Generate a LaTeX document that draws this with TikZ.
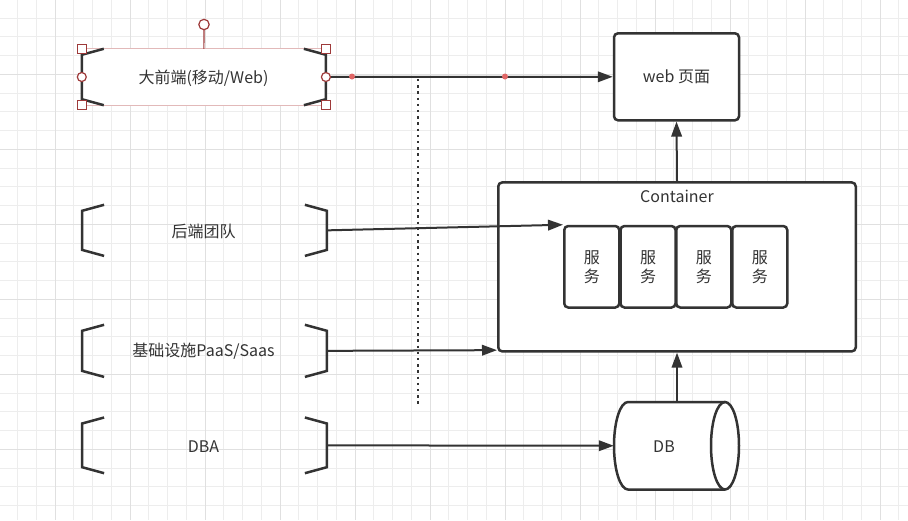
\documentclass[tikz,border=0pt]{standalone}
\usepackage{fontspec}
\setmainfont{Noto Sans CJK SC}
\usetikzlibrary{arrows.meta,calc}
\definecolor{ink}{HTML}{333333}
\definecolor{gridminor}{HTML}{EDEDED}
\definecolor{gridmajor}{HTML}{E0E0E0}
\definecolor{handle}{HTML}{9E3A3A}
\definecolor{selline}{HTML}{E2B9B9}
\definecolor{reddot}{HTML}{E06666}
\begin{document}
\begin{tikzpicture}[x=1pt,y=-1pt,
  every node/.style={font=\fontsize{16}{19}\selectfont, text=ink},
  box/.style={draw=ink, line width=2.5pt, rounded corners=4pt, fill=white, inner sep=0pt},
  holder/.style={inner sep=0pt},
  bracketline/.style={draw=ink, line width=2.5pt},
  conn/.style={draw=ink, line width=2pt, -{Triangle[length=15pt,width=10.5pt]}},
  handlebox/.style={draw=handle, fill=white, line width=1.2pt},
  gridline/.style={line width=1pt}]
\useasboundingbox (0,0) rectangle (908,520);
\fill[white] (0,0) rectangle (908,520);
% grid
\foreach \i in {0,...,47} \draw[gridline, gridminor] ({17.5+\i*18.75},0) -- ({17.5+\i*18.75},520);
\foreach \j in {0,...,26} \draw[gridline, gridminor] (0,{18.05+\j*18.75}) -- (908,{18.05+\j*18.75});
\foreach \i in {0,...,11} \draw[gridline, gridmajor] ({55+\i*75},0) -- ({55+\i*75},520);
\foreach \j in {0,...,5} \draw[gridline, gridmajor] (0,{74.3+\j*75}) -- (908,{74.3+\j*75});

% dotted separator
\coordinate (d1) at (418,79);
\coordinate (d2) at (418,405);
\draw[ink, line width=2.3pt, dash pattern=on 2.3pt off 3.9pt] (d1) -- (d2);

% left bracket holders
\node[holder, fill=white, minimum width=243.7pt, minimum height=56pt] (fe) at (203.85,77) {};
\node[holder, minimum width=244.4pt, minimum height=50.7pt] (be) at (204.5,230.35) {};
\node[holder, minimum width=244.4pt, minimum height=51.7pt] (paas) at (204.5,350.85) {};
\node[holder, minimum width=244.4pt, minimum height=55.3pt] (dba) at (204.5,445.35) {};
\node at (203.5,78) {大前端(移动/Web)};
\node at (203.5,231.5) {后端团队};
\node at (203.5,351.5) {基础设施PaaS/Saas};
\node at (203.5,446.5) {DBA};

% selection outline
\draw[selline, line width=1.2pt] (fe.north west) rectangle (fe.south east);

\foreach \n in {fe,be,paas,dba}{
  \draw[bracketline] ($(\n.north west)+(22,0)$) -- ($(\n.north west)+(0,6)$) -- ($(\n.south west)+(0,-6)$) -- ($(\n.south west)+(22,0)$);
  \draw[bracketline] ($(\n.north east)+(-22,0)$) -- ($(\n.north east)+(0,6)$) -- ($(\n.south east)+(0,-6)$) -- ($(\n.south east)+(-22,0)$);
}

% right side boxes
\node[box, minimum width=125pt, minimum height=87pt] (web) at (676.5,76.8) {web 页面};
\node[box, minimum width=357.5pt, minimum height=169pt] (container) at (677,266.9) {};
\node (ctitle) at (677,196) {Container};
\node[box, minimum width=55pt, minimum height=81.5pt, align=center] (s1) at (591.75,266.75) {服\\务};
\node[box, minimum width=55pt, minimum height=81.5pt, align=center] (s2) at (648,266.75) {服\\务};
\node[box, minimum width=55pt, minimum height=81.5pt, align=center] (s3) at (703.75,266.75) {服\\务};
\node[box, minimum width=55pt, minimum height=81.5pt, align=center] (s4) at (759.75,266.75) {服\\务};

% DB cylinder
\node[holder, minimum width=125pt, minimum height=87.5pt] (db) at (676.5,445.75) {};
\fill[white] (628,402) -- (725,402) -- (725,489.5) -- (628,489.5) -- cycle;
\fill[white] (725,445.75) ellipse [x radius=14, y radius=43.75];
\draw[ink, line width=2.5pt, fill=white]
  (725,402) -- (628,402)
  .. controls (620.27,402) and (614,421.59) .. (614,445.75)
  .. controls (614,469.91) and (620.27,489.5) .. (628,489.5) -- (725,489.5);
\draw[ink, line width=2.5pt] (725,445.75) ellipse [x radius=14, y radius=43.75];
\node (dbtext) at (664,446.5) {DB};

% connectors
\draw[conn] (fe.east) -- (web.west);
\draw[conn] (container.north) -- (web.south);
\draw[conn] (be.east) -- (s1.north west);
\draw[conn] (paas.east) -- ($(container.south west)+(0,-2.5)$);
\draw[conn] (dba.east) -- (db.west);
\draw[conn] (container.south |- db.north) -- (container.south);

% red waypoint dots
\fill[reddot] (352,76.5) circle (3pt);
\fill[reddot] (505,76.5) circle (3pt);

% selection handles
\draw[handle, line width=1.2pt] (fe.north) -- (204,30);
\draw[handlebox] (204,24.5) circle (5.2pt);
\foreach \c in {north west, north east, south west, south east}
  \draw[handlebox] ($(fe.\c)+(-4.5,-4.5)$) rectangle ($(fe.\c)+(4.5,4.5)$);
\draw[handlebox] (fe.west) circle (4.5pt);
\draw[handlebox] (fe.east) circle (4.5pt);
\end{tikzpicture}
\end{document}
